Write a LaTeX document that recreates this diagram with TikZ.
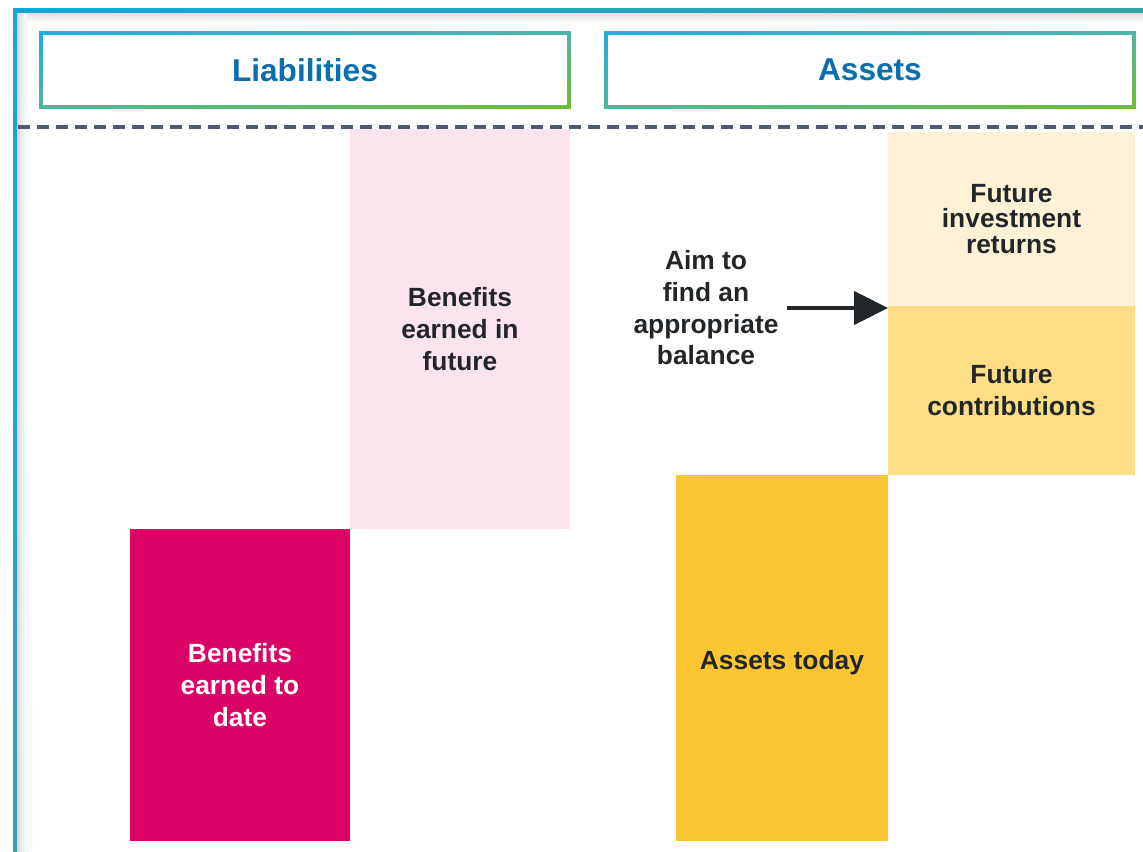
\documentclass[tikz,border=0pt]{standalone}
\usepackage{fontspec}
\setmainfont{Liberation Sans}
\usepackage{tikz}
\usetikzlibrary{arrows.meta,shadings}

\definecolor{frameblue}{HTML}{12A7DB}
\definecolor{frameteal}{HTML}{37A3A9}
\definecolor{edgeblue}{HTML}{22ADE0}
\definecolor{edgeteal}{HTML}{4DB5A8}
\definecolor{edgemint}{HTML}{4DB89A}
\definecolor{edgegreen}{HTML}{6EBE2C}
\definecolor{headblue}{HTML}{0B6FAE}
\definecolor{ink}{HTML}{222629}
\definecolor{dashgrey}{HTML}{4D5A70}
\definecolor{rose}{HTML}{FBE4EE}
\definecolor{magenta}{HTML}{DC0367}
\definecolor{gold}{HTML}{FCC632}
\definecolor{lightgold}{HTML}{FDDD86}
\definecolor{cream}{HTML}{FEF2D6}

\begin{document}
\begin{tikzpicture}[x=0.02cm, y=-0.02cm,
    blk/.style={inner sep=0pt, outer sep=0pt, align=center, anchor=north west,
       text=ink, font=\bfseries\fontsize{15}{18}\selectfont},
    head/.style={blk, minimum width=10.64cm, minimum height=1.56cm,
       text=headblue, font=\bfseries\fontsize{18}{21}\selectfont,
       upper left=edgeblue, upper right=edgeteal,
       lower left=edgemint, lower right=edgegreen,
       path picture={\fill[white]
         ([shift={(0.07cm,0.07cm)}]path picture bounding box.south west) rectangle
         ([shift={(-0.07cm,-0.07cm)}]path picture bounding box.north east);}}]
    \useasboundingbox[fill=white] (0,0) rectangle (1143,852);

    % outer frame with a soft inner shadow
    \shade[top color=black!14, bottom color=white] (17,12) rectangle (1143,22);
    \shade[left color=black!14, right color=white] (17,12) rectangle (27,852);
    \shade[left color=frameblue, right color=frameteal] (13,8) rectangle (1143,12);
    \shade[top color=frameblue, bottom color=frameteal] (13,8) rectangle (17,852);

    \node (liab)   at (39,31)  [head] {Liabilities};
    \node (assets) at (604,31) [head] {Assets};
    \draw[dashgrey, line width=1.8pt, dash pattern=on 0.25cm off 0.13cm] (18,127) -- (1143,127);

    \node (future)  at (350,129) [blk, fill=rose, minimum width=4.4cm, minimum height=8.0cm] {Benefits\\earned in\\future};
    \node (earned)  at (130,529) [blk, fill=magenta, text=white, minimum width=4.4cm, minimum height=6.24cm] {Benefits\\earned to\\date};
    \node (returns) at (888,132) [blk, fill=cream, minimum width=4.94cm, minimum height=3.48cm,
                                  font=\bfseries\fontsize{15}{14.5}\selectfont] {Future\\investment\\returns};
    \node (contrib) at (888,306) [blk, fill=lightgold, minimum width=4.94cm, minimum height=3.38cm] {Future\\contributions};
    \node (today)   at (676,475) [blk, fill=gold, minimum width=4.24cm, minimum height=7.32cm,
                                  text height=0.56cm] {Assets today};

    \node (aim) at (706,308) [blk, anchor=center, inner xsep=0.18cm] {Aim to\\find an\\appropriate\\balance};
    \draw[ink, line width=0.09cm, -{Triangle[length=0.68cm, width=0.66cm]}] (aim.east) -- (aim.east -| returns.west);
\end{tikzpicture}
\end{document}
